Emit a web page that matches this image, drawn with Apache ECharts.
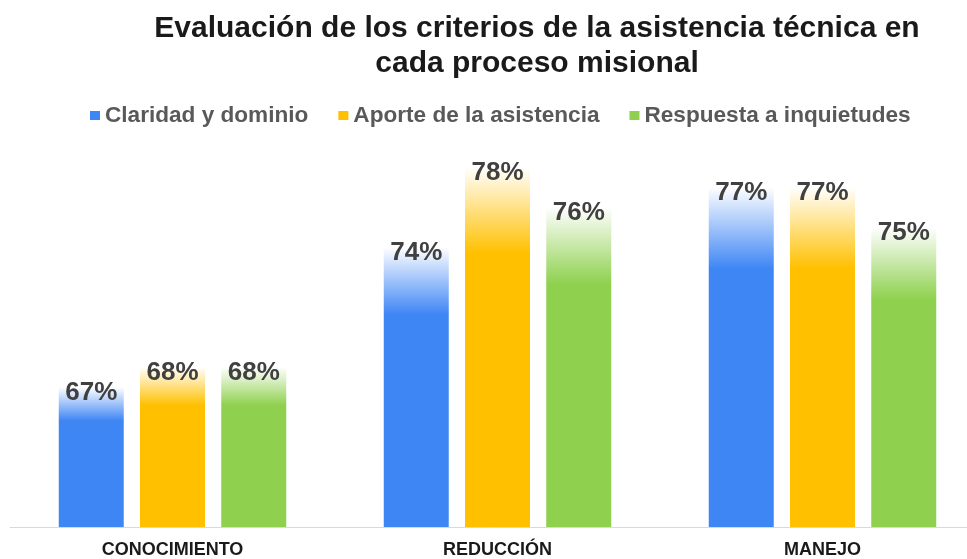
<!DOCTYPE html>
<html>
<head>
<meta charset="utf-8">
<script src="https://cdn.jsdelivr.net/npm/echarts@6/dist/echarts.min.js"></script>
<style>
    html, body { margin: 0; padding: 0; background: #fff; }
    #chart { width: 967px; height: 559px; }
</style>
</head>
<body>
<div id="chart"></div>
<script>
    const categories = ['CONOCIMIENTO', 'REDUCCIÓN', 'MANEJO'];
    const seriesNames = ['Claridad y dominio', 'Aporte de la asistencia', 'Respuesta a inquietudes'];
    const claridad = [67, 74, 77];
    const aporte = [68, 78, 77];
    const respuesta = [68, 76, 75];
    const seriesColors = ['#3f86f5', '#ffc000', '#8fd14f'];

    const fontPrimary = '"Liberation Sans", Arial, sans-serif';

    function fadeColor(color) {
        return new echarts.graphic.LinearGradient(0, 0, 0, 1, [
            { offset: 0, color: '#ffffff' },
            { offset: 0.24, color: color }
        ]);
    }

    function makeSeries(name, values, color) {
        return {
            name: name,
            type: 'bar',
            barWidth: 65,
            barGap: '25%',
            itemStyle: { color: fadeColor(color) },
            label: {
                show: true,
                position: 'insideTop',
                distance: 0,
                offset: [0, -7],
                formatter: '{c}%',
                color: '#404040',
                fontSize: 26,
                fontWeight: 'bold',
                fontFamily: fontPrimary
            },
            data: values
        };
    }

    const chart = echarts.init(document.getElementById('chart'));
    chart.setOption({
        backgroundColor: '#ffffff',
        animation: false,
        title: {
            text: 'Evaluación de los criterios de la asistencia técnica en\ncada proceso misional',
            left: 532,
            top: 6,
            textAlign: 'center',
            textStyle: {
                color: '#1a1a1a',
                fontSize: 30,
                fontWeight: 'bold',
                lineHeight: 35,
                fontFamily: fontPrimary
            }
        },
        legend: {
            top: 99,
            left: 85,
            itemWidth: 10,
            itemHeight: 9,
            itemGap: 30,
            icon: 'rect',
            data: seriesNames.map((n, i) => ({ name: n, itemStyle: { color: seriesColors[i] } })),
            textStyle: {
                color: '#595959',
                fontSize: 22.6,
                fontWeight: 'bold',
                fontFamily: fontPrimary
            }
        },
        grid: { left: 10, width: 975, top: 127, bottom: 32, outerBoundsMode: 'none' },
        xAxis: {
            type: 'category',
            data: categories,
            axisTick: { show: false },
            axisLine: { lineStyle: { color: '#d9d9d9', width: 1 } },
            axisLabel: {
                color: '#1a1a1a',
                fontSize: 18,
                fontWeight: 'bold',
                fontFamily: fontPrimary,
                margin: 14
            }
        },
        yAxis: {
            type: 'value',
            min: 60,
            max: 80,
            show: false,
            splitLine: { show: false }
        },
        series: [
            makeSeries(seriesNames[0], claridad, seriesColors[0]),
            makeSeries(seriesNames[1], aporte, seriesColors[1]),
            makeSeries(seriesNames[2], respuesta, seriesColors[2])
        ]
    });
</script>
</body>
</html>
